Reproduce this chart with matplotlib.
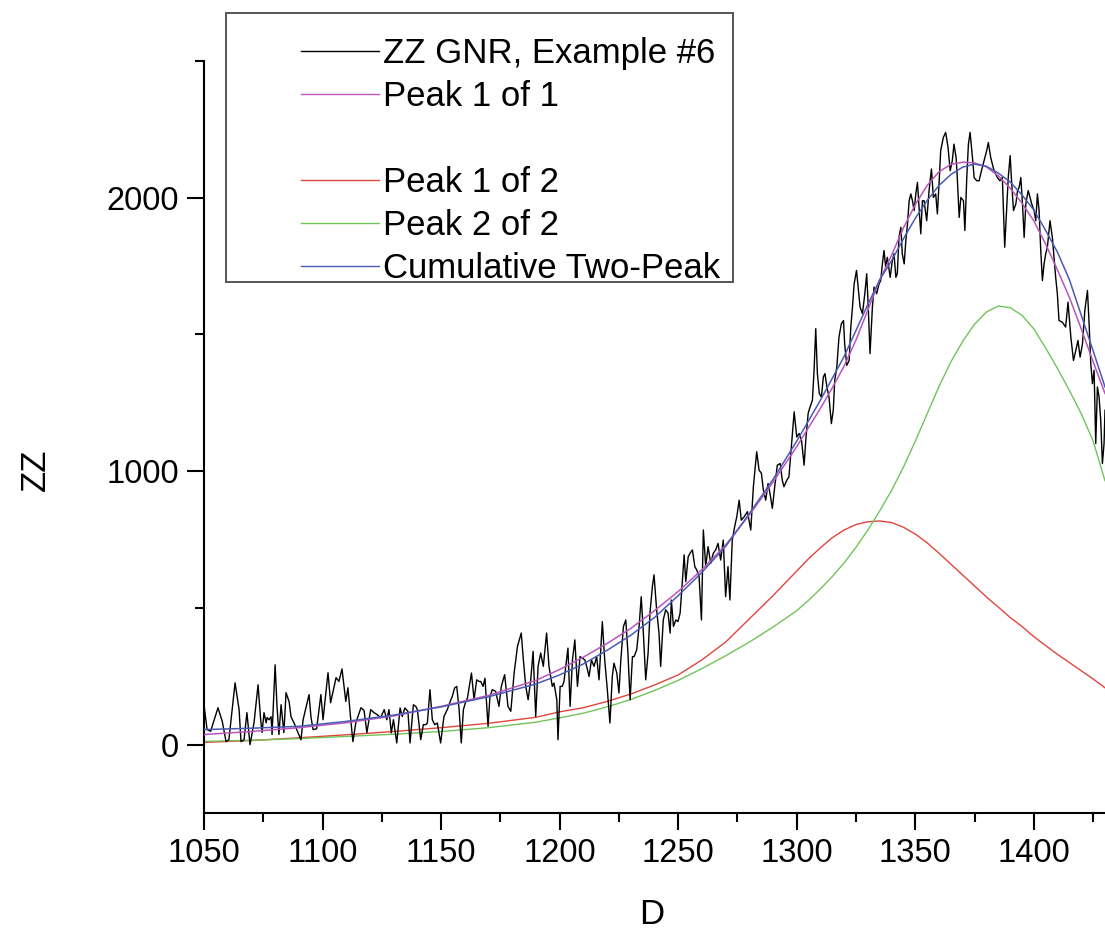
import numpy as np
import matplotlib
matplotlib.use("Agg")
import matplotlib.pyplot as plt
from matplotlib.lines import Line2D
from matplotlib.patches import Rectangle
from matplotlib.ticker import MultipleLocator

plt.rcParams['font.family'] = ['Liberation Sans', 'DejaVu Sans']

data_x = [
    1050.0, 1051.3, 1052.8, 1055.9, 1057.7, 1059.3, 1060.5, 1063.1, 1064.8, 1065.6,
    1066.9, 1068.1, 1069.4, 1071.1, 1072.8, 1073.9, 1074.5, 1075.3, 1076.2, 1076.6,
    1077.4, 1078.3, 1078.7, 1080.0, 1080.8, 1081.6, 1082.5, 1083.7, 1084.6, 1085.9,
    1086.7, 1088.3, 1089.1, 1090.9, 1091.8, 1094.3, 1095.1, 1096.0, 1097.5, 1099.3,
    1100.2, 1102.3, 1103.4, 1105.7, 1106.9, 1108.2, 1109.8, 1110.7, 1111.9, 1112.8,
    1114.0, 1116.2, 1117.5, 1118.7, 1120.3, 1121.7, 1123.0, 1124.5,
    1126.0, 1127.1, 1128.0, 1129.0, 1129.9, 1131.3, 1132.7, 1133.6, 1134.7, 1136.0,
    1136.9, 1138.3, 1139.3, 1140.0, 1141.4, 1142.5, 1143.5, 1144.2, 1145.3, 1146.3,
    1147.3, 1148.4, 1149.8, 1151.2, 1152.6, 1154.1, 1154.7, 1155.7, 1156.6, 1157.6,
    1158.5, 1159.4, 1160.4, 1161.1, 1162.8, 1163.9, 1165.0, 1166.0, 1166.7, 1167.7,
    1168.5, 1169.8, 1170.6, 1171.6, 1173.0, 1174.4, 1175.4, 1176.8, 1178.2, 1179.4,
    1180.8, 1182.2, 1183.8, 1184.7, 1185.7, 1186.7, 1187.8, 1188.8, 1189.9, 1190.9,
    1192.0, 1193.1, 1194.5, 1195.5, 1196.9, 1197.6, 1198.8, 1199.3, 1200.2, 1201.1,
    1201.8, 1203.5, 1204.4, 1205.4, 1206.4, 1207.5, 1208.6, 1209.6, 1210.6, 1211.4,
    1212.4, 1213.4, 1214.5, 1215.6, 1216.6, 1218.0, 1219.0, 1220.1, 1221.2, 1222.2,
    1222.9, 1224.1, 1225.0, 1225.8, 1226.9, 1227.9, 1228.8, 1229.7, 1230.7, 1231.4,
    1232.5, 1233.5, 1234.4, 1235.3, 1236.3, 1237.3, 1238.1, 1239.1, 1239.8, 1240.9,
    1241.9, 1242.6, 1243.7, 1244.7, 1245.7, 1246.6, 1247.1, 1248.0, 1249.0, 1249.9,
    1250.8, 1251.7, 1252.5, 1253.2, 1254.2, 1255.0, 1256.0, 1257.0, 1257.8, 1258.8,
    1259.8, 1260.6, 1261.6, 1262.6, 1263.7, 1264.8, 1265.8, 1266.8, 1267.9, 1269.0,
    1270.0, 1271.0, 1271.8, 1272.8, 1273.8, 1274.7, 1275.7, 1276.6,
    1277.8, 1279.2, 1280.6, 1281.7, 1283.1, 1284.1, 1285.1, 1285.9, 1286.9, 1287.9,
    1288.7, 1289.7, 1290.7, 1291.8, 1293.0, 1293.9, 1294.6, 1295.8, 1296.7, 1297.7,
    1298.9, 1300.0, 1301.0, 1302.0, 1303.1, 1303.8, 1304.8, 1305.6, 1306.6, 1307.3,
    1308.0, 1308.7, 1309.5, 1310.4, 1311.2, 1311.9, 1312.7, 1313.6, 1314.6, 1315.4,
    1316.0, 1316.9, 1317.8, 1318.8, 1319.7, 1320.2, 1321.1, 1322.1, 1322.8, 1323.5,
    1324.2, 1325.2, 1325.9, 1326.7, 1327.7, 1328.7, 1329.5, 1330.1, 1330.9, 1331.9,
    1332.6, 1333.7, 1334.7, 1335.4, 1336.1, 1336.8, 1337.5, 1338.2, 1339.4, 1340.3,
    1341.0, 1341.8, 1342.4, 1343.1, 1343.9, 1344.5, 1345.3, 1346.0, 1346.7, 1347.4,
    1348.1, 1348.8, 1349.5, 1350.2, 1350.9, 1351.6, 1352.3, 1353.0,
    1353.7, 1354.8, 1355.8, 1356.8, 1357.6, 1358.6, 1359.3, 1360.0, 1360.7, 1361.8,
    1362.8, 1363.8, 1364.7, 1365.6, 1366.3, 1367.2, 1367.7, 1368.5, 1369.2, 1370.3,
    1370.9, 1371.7, 1372.4, 1373.1, 1374.1, 1374.8, 1375.9, 1376.9, 1377.9, 1379.0,
    1380.1, 1380.8, 1381.8, 1383.2, 1384.6, 1385.7, 1386.7, 1387.4, 1387.7, 1388.5,
    1389.2, 1390.0, 1390.5, 1391.4, 1392.4, 1393.1, 1393.8, 1394.5, 1395.2, 1395.9,
    1396.6, 1397.6, 1398.4, 1399.1, 1400.1, 1400.8, 1401.5, 1402.2, 1402.9, 1403.6,
    1404.3, 1405.0, 1405.7, 1406.8, 1407.8, 1408.5, 1409.2, 1409.9, 1410.6, 1412.0,
    1413.4, 1414.4, 1415.6, 1416.7, 1417.7, 1418.6, 1419.5, 1420.5, 1421.5, 1422.6,
    1423.3, 1424.0, 1424.7, 1425.4, 1426.1, 1426.8, 1427.5, 1428.2, 1428.9, 1429.6,
    1430.0,
]
data_y = [
    146, 55, 49, 135, 85, 11, 18, 226, 128, 11,
    18, 117, 0, 80, 219, 91, 44, 117, 80, 99,
    91, 102, 37, 292, 139, 37, 146, 44, 190, 157,
    102, 73, 55, 18, 91, 183, 102, 55, 58, 183,
    91, 263, 153, 245, 231, 277, 158, 208, 91, 11,
    79, 135, 125, 44, 128, 117, 110, 99,
    128, 91, 128, 43, 91, 6, 134, 103, 134, 122,
    6, 146, 140, 128, 18, 73, 73, 79, 201, 91,
    73, 79, 6, 103, 128, 164, 176, 207, 213, 128,
    6, 128, 158, 170, 262, 164, 237, 231, 231, 213,
    243, 67, 176, 201, 195, 140, 213, 256, 140, 122,
    262, 359, 408, 310, 213, 164, 237, 341, 103, 286,
    335, 286, 408, 286, 213, 225, 164, 18, 213, 213,
    230, 353, 140, 310, 383, 213, 322, 316, 310, 286,
    249, 310, 286, 322, 237, 450, 310, 201, 79, 249,
    298, 262, 189, 310, 432, 456, 335, 164, 322, 322,
    347, 432, 541, 408, 237, 335, 481, 578, 621, 493,
    408, 286, 456, 493, 481, 408, 529, 432, 456, 450,
    481, 590, 694, 596, 687, 700, 712, 651, 639, 614,
    456, 785, 651, 724, 663, 700, 712, 736, 675, 748,
    541, 651, 529, 748, 797, 833, 894, 821,
    833, 852, 785, 943, 1071, 1004, 992, 931, 894, 955,
    919, 864, 943, 1022, 1028, 967, 943, 967, 979, 1089,
    1217, 1125, 1138, 1113, 1022, 1113, 1211, 1235, 1259, 1369,
    1521, 1357, 1284, 1271, 1344, 1357, 1308, 1271, 1174, 1223,
    1332, 1381, 1490, 1539, 1551, 1466, 1387, 1405, 1527, 1600,
    1685, 1734, 1673, 1600, 1576, 1649, 1722, 1612, 1430, 1600,
    1673, 1649, 1685, 1697, 1758, 1807, 1746, 1782, 1709, 1770,
    1795, 1709, 1722, 1855, 1892, 1795, 1758, 1843, 1904, 1989,
    2014, 1989, 1953, 2014, 2056, 1965, 1868, 1989,
    1989, 1916, 2026, 2105, 2001, 2014, 1941, 2050, 2172, 2220,
    2239, 2184, 2099, 2135, 2196, 2147, 2074, 1928, 2001, 1989,
    1880, 2074, 2196, 2239, 2147, 2074, 2062, 2062, 2099, 2135,
    2172, 2202, 2147, 2099, 2074, 2062, 2074, 1892, 1819, 1953,
    2074, 2154, 2074, 1953, 1977, 2026, 2038, 2074, 1977, 1855,
    1977, 2026, 2001, 1977, 1953, 1916, 2014, 1953, 1807, 1697,
    1758, 1795, 1819, 1916, 1855, 1782, 1709, 1649, 1551, 1545,
    1527, 1618, 1490, 1405, 1442, 1478, 1417, 1466, 1588, 1661,
    1539, 1393, 1320, 1369, 1101, 1308, 1271, 1186, 1028, 1101,
    1223,
]

# fitted curves
fit_x = [1050, 1070, 1090, 1110, 1130, 1150, 1170, 1190, 1200, 1210, 1220, 1230,
         1240, 1250, 1260, 1270, 1280, 1290,
         1300, 1305, 1310, 1315, 1320, 1325, 1330, 1335, 1340, 1345, 1350, 1355,
         1360, 1365, 1370, 1375, 1380, 1385, 1390, 1395, 1400, 1405, 1410, 1415,
         1420, 1425, 1430]
peak_1of1 = [37, 48, 62, 80, 105, 140, 180, 235, 275, 320, 370, 425,
             490, 560, 640, 730, 840, 960,
             1090, 1160, 1230, 1305, 1385, 1480, 1590, 1700, 1790, 1890, 1975, 2045,
             2095, 2122, 2130, 2127, 2113, 2080, 2035, 1980, 1915, 1830, 1735, 1635,
             1520, 1400, 1284]
cumulative = [55, 60, 67, 85, 108, 138, 175, 222, 255, 295, 345, 400,
              465, 545, 630, 725, 845, 970,
              1110, 1185, 1260, 1340, 1420, 1515, 1610, 1700, 1770, 1850, 1925, 1990,
              2045, 2085, 2112, 2123, 2115, 2090, 2058, 2010, 1955, 1880, 1800, 1700,
              1570, 1440, 1308]
peak_1of2 = [8, 15, 25, 36, 48, 62, 78, 100, 120, 135, 158, 185,
             218, 255, 310, 375, 460, 545,
             635, 680, 720, 757, 785, 805, 815, 818, 812, 795, 770, 738,
             700, 660, 620, 580, 540, 503, 465, 432, 395, 362, 330, 300,
             270, 240, 208]
peak_2of2 = [12, 16, 22, 30, 38, 48, 62, 82, 98, 115, 138, 165,
             198, 235, 278, 325, 375, 430,
             490, 528, 570, 615, 665, 722, 785, 855, 930, 1015, 1110, 1210,
             1310, 1400, 1475, 1538, 1582, 1604, 1598, 1570, 1520, 1450, 1375, 1295,
             1210, 1110, 965]

labels = ['ZZ GNR, Example #6', 'Peak 1 of 1', ' ', 'Peak 1 of 2', 'Peak 2 of 2',
          'Cumulative Two-Peak']

c_data = 'black'
c_p11 = '#bb55bb'
c_p12 = '#e0463c'
c_p22 = '#72c45a'
c_cum = '#4a5cb4'

W, H = 1105, 930
fig = plt.figure(figsize=(W / 100, H / 100), dpi=100)
ax = fig.add_axes([204 / W, (H - 813) / H, (W - 204) / W, (813 - 61) / H])

ax.plot(fit_x, peak_1of2, color=c_p12, lw=1.0, zorder=2)
ax.plot(fit_x, peak_2of2, color=c_p22, lw=1.0, zorder=2)
ax.plot(data_x, data_y, color=c_data, lw=1.0, zorder=3)
ax.plot(fit_x, peak_1of1, color=c_p11, lw=1.1, zorder=4)
ax.plot(fit_x, cumulative, color=c_cum, lw=1.1, zorder=4)

ax.set_xlim(1050, 1430)
ax.set_ylim(-250, 2500)
ax.xaxis.set_major_locator(MultipleLocator(50))
ax.xaxis.set_minor_locator(MultipleLocator(25))
ax.yaxis.set_major_locator(MultipleLocator(1000))
ax.yaxis.set_minor_locator(MultipleLocator(500))

for s in ['top', 'right']:
    ax.spines[s].set_visible(False)
for s in ['left', 'bottom']:
    ax.spines[s].set_linewidth(1.5)
ax.tick_params(which='major', direction='out', length=12, width=1.5,
               labelsize=23.5, pad=6)
ax.tick_params(which='minor', direction='out', length=6.5, width=1.5)

fig.text(652 / W, 1 - 914 / H, 'D', fontsize=25, ha='center', va='center')
fig.text(35 / W, 1 - 470 / H, 'ZZ', fontsize=25, ha='center', va='center',
         rotation=90)

# legend frame
fig.patches.append(Rectangle((226 / W, 1 - 282 / H), (733 - 226) / W, (282 - 13) / H,
                             transform=fig.transFigure, facecolor='white',
                             edgecolor='#555555', lw=1.4, zorder=5))

handles = [
    Line2D([], [], color=c_data, lw=1.0),
    Line2D([], [], color=c_p11, lw=1.0),
    Line2D([], [], color='none'),
    Line2D([], [], color=c_p12, lw=1.0),
    Line2D([], [], color=c_p22, lw=1.0),
    Line2D([], [], color=c_cum, lw=1.0),
]
leg = fig.legend(handles, labels, loc='upper left',
                 bbox_to_anchor=(301 / W, 1 - 37 / H), bbox_transform=fig.transFigure,
                 frameon=False, fontsize=25, borderpad=0, borderaxespad=0,
                 handlelength=2.25, handletextpad=0.1, labelspacing=0.29)
leg.set_zorder(6)

fig.savefig('out.png', dpi=100)
